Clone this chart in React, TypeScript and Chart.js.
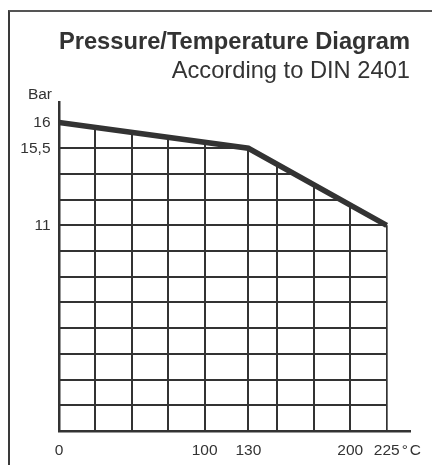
import React, { useEffect, useRef } from "react";
import { Chart, registerables } from "chart.js";

Chart.register(...registerables);

// ---- data ----
const temperatures = [0, 130, 225]; // °C
const pressures = [16, 15.5, 11]; // bar

const xGridValues = [0, 25, 50, 75, 100, 130, 150, 175, 200, 225];
const xLabelValues = [0, 100, 130, 200, 225];

// the diagram's pressure axis is schematic: labelled pressures sit on grid rows
const yAnchorPressures = [11, 15.5, 16];
const yAnchorRows = [8, 11, 12];
const yTickLabels = ["11", "15,5", "16"];
const gridRows = [1, 2, 3, 4, 5, 6, 7, 8, 9, 10, 11, 12];

const titleText = "Pressure/Temperature Diagram";
const subtitleText = "According to DIN 2401";
const yUnit = "Bar";
const xUnit = "°C";

const INK = "#333333";
const FONT = "'Liberation Sans', Arial, Helvetica, sans-serif";

function pressureToRow(p: number): number {
  const ps = yAnchorPressures;
  const rs = yAnchorRows;
  let i = 0;
  while (i < ps.length - 2 && p > ps[i + 1]) i++;
  const t = (p - ps[i]) / (ps[i + 1] - ps[i]);
  return rs[i] + t * (rs[i + 1] - rs[i]);
}

const clippedGrid = {
  id: "clippedGrid",
  beforeDatasetsDraw(chart: any) {
    const { ctx, chartArea, scales } = chart;
    const x = scales.x;
    const y = scales.y;
    const pts = chart.getDatasetMeta(0).data;
    if (!pts || !pts.length) return;
    const bottom = y.getPixelForValue(0);
    const first = pts[0];
    const last = pts[pts.length - 1];
    ctx.save();
    ctx.beginPath();
    ctx.moveTo(first.x - 2, bottom + 2);
    ctx.lineTo(first.x - 2, first.y);
    pts.forEach((p: any) => ctx.lineTo(p.x, p.y));
    ctx.lineTo(last.x + 1, last.y);
    ctx.lineTo(last.x + 1, bottom + 2);
    ctx.closePath();
    ctx.clip();
    ctx.strokeStyle = INK;
    ctx.lineWidth = 2;
    ctx.beginPath();
    xGridValues.forEach((v) => {
      const px = Math.round(x.getPixelForValue(v));
      ctx.moveTo(px, bottom);
      ctx.lineTo(px, chartArea.top);
    });
    gridRows.forEach((r) => {
      const py = Math.round(y.getPixelForValue(r));
      ctx.moveTo(chartArea.left, py);
      ctx.lineTo(chartArea.right, py);
    });
    ctx.stroke();
    ctx.restore();
  },
};

const unitLabels = {
  id: "unitLabels",
  afterDraw(chart: any) {
    const { ctx, chartArea, scales } = chart;
    const x = scales.x;
    ctx.save();
    ctx.fillStyle = INK;
    ctx.font = `15.5px ${FONT}`;
    ctx.textBaseline = "middle";
    ctx.textAlign = "right";
    ctx.fillText(yUnit, chartArea.left - 7, chartArea.top - 7);
    ctx.textAlign = "left";
    const px = x.getPixelForValue(xLabelValues[xLabelValues.length - 1]);
    const ly = chartArea.bottom + 19.5;
    ctx.fillText(xUnit.charAt(0), px + 15, ly);
    ctx.fillText(xUnit.slice(1), px + 23, ly);
    ctx.restore();
  },
};

export default function App() {
  const ref = useRef<HTMLCanvasElement | null>(null);

  useEffect(() => {
    if (!ref.current) return;
    const chart = new Chart(ref.current, {
      type: "line",
      data: {
        datasets: [
          {
            data: temperatures.map((t, i) => ({ x: t, y: pressureToRow(pressures[i]) })),
            borderColor: INK,
            borderWidth: 5.5,
            pointRadius: 0,
            tension: 0,
            borderJoinStyle: "miter",
            borderCapStyle: "butt",
          } as any,
        ],
      },
      options: {
        animation: false,
        responsive: false,
        devicePixelRatio: 1,
        layout: { padding: { top: 0, left: 0, right: 22, bottom: 0 } },
        plugins: {
          legend: { display: false },
          tooltip: { enabled: false },
          title: {
            display: true,
            text: titleText,
            align: "end",
            color: INK,
            font: { family: FONT, size: 23.7, weight: "bold" },
            padding: { top: 28.5, bottom: 0 },
          },
          subtitle: {
            display: true,
            text: subtitleText,
            align: "end",
            color: INK,
            font: { family: FONT, size: 23.7, weight: "normal" },
            padding: { top: 0.3, bottom: 16.3 },
          },
        },
        scales: {
          x: {
            type: "linear",
            min: 0,
            max: 241,
            afterBuildTicks: (s: any) => {
              s.ticks = xGridValues.map((v) => ({ value: v }));
            },
            afterFit: (s: any) => {
              s.height = 34;
            },
            ticks: {
              autoSkip: false,
              maxRotation: 0,
              padding: 10,
              color: INK,
              font: { family: FONT, size: 15.5 },
              callback: (v: any) => (xLabelValues.includes(Number(v)) ? String(v) : ""),
            },
            grid: { display: false, drawTicks: false },
            border: { display: true, color: INK, width: 2.5 },
          },
          y: {
            type: "linear",
            min: 0,
            max: 12.8,
            afterBuildTicks: (s: any) => {
              s.ticks = yAnchorRows.map((v) => ({ value: v }));
            },
            afterFit: (s: any) => {
              s.width = 59;
            },
            ticks: {
              autoSkip: false,
              padding: 8.5,
              color: INK,
              font: { family: FONT, size: 15.5 },
              callback: (v: any) => {
                const i = yAnchorRows.indexOf(Number(v));
                return i >= 0 ? yTickLabels[i] : "";
              },
            },
            grid: { display: false, drawTicks: false },
            border: { display: true, color: INK, width: 2.5 },
          },
        },
      } as any,
      plugins: [clippedGrid, unitLabels],
    });
    return () => chart.destroy();
  }, []);

  return (
    <div
      style={{
        position: "fixed",
        left: 0,
        top: 0,
        width: 432,
        height: 465,
        overflow: "hidden",
        background: "#ffffff",
      }}
    >
      <div
        style={{
          position: "absolute",
          left: 8,
          top: 10,
          width: 600,
          height: 600,
          borderTop: "2px solid #555555",
          borderLeft: "2px solid #3a3a3a",
        }}
      />
      <canvas
        ref={ref}
        width={432}
        height={465}
        style={{ position: "absolute", left: 0, top: 0, width: 432, height: 465 }}
      />
    </div>
  );
}
